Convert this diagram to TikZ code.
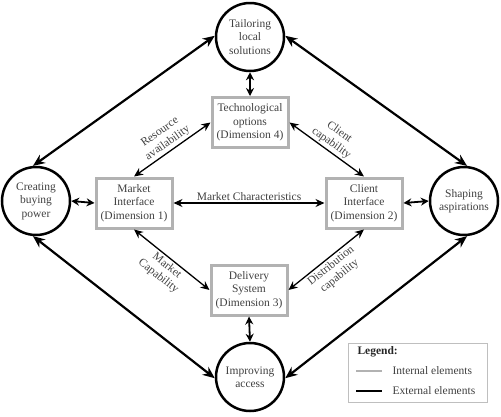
\documentclass[tikz,border=0pt]{standalone}
\usepackage{fontspec}
\setmainfont{Liberation Serif}
\usetikzlibrary{arrows.meta}
\begin{document}
\begin{tikzpicture}[x=1pt,y=-1pt,
  txt/.style={text=black!75, font=\fontsize{11.5}{13.5}\selectfont, align=center},
  outer/.style={txt, draw=black, circle, line width=2.5pt, minimum size=68pt, inner sep=0pt},
  inner/.style={txt, draw=black!30, line width=3pt, minimum width=76pt, minimum height=50pt, inner sep=1pt},
  bigarr/.style={line width=2.2pt, {Stealth[length=12pt,width=10pt]}-{Stealth[length=12pt,width=10pt]}},
  shortarr/.style={line width=1.8pt, {Stealth[length=8pt,width=8pt]}-{Stealth[length=8pt,width=8pt]}},
  thinarr/.style={line width=1.3pt, {Stealth[length=9pt,width=8pt]}-{Stealth[length=9pt,width=8pt]}},
  lab/.style={txt, inner sep=2pt}
]
\useasboundingbox (0,0) rectangle (501,416);

\node[outer] (T) at (250,37) {Tailoring\\local\\solutions};
\node[outer] (C) at (36,201) {Creating\\buying\\power};
\node[outer] (S) at (464,201) {Shaping\\aspirations};
\node[outer] (I) at (250,377) {Improving\\access};

\node[inner] (TO) at (250,122.5) {Technological\\options\\(Dimension 4)};
\node[inner] (MI) at (134,203) {Market\\Interface\\(Dimension 1)};
\node[inner] (CI) at (364,203) {Client\\Interface\\(Dimension 2)};
\node[inner] (DS) at (249,290) {Delivery\\System\\(Dimension 3)};

\draw[bigarr] (C.95) -- (T.178);
\draw[bigarr] (T.2) -- (S.85);
\draw[bigarr] (C.265) -- (I.182);
\draw[bigarr] (I.358) -- (S.275);

\draw[shortarr] (T.south) -- (TO.north);
\draw[shortarr] (C.east) -- (MI.west);
\draw[shortarr] (CI.east) -- (S.west);
\draw[shortarr] (DS.south) -- (I.north);

\draw[thinarr] (MI.east) -- node[lab, above] {Market Characteristics} (CI.west);
\draw[thinarr] (MI.north) -- node[lab, midway, sloped, above] {Resource\\availability} (TO.west);
\draw[thinarr] (TO.east) -- node[lab, midway, sloped, above] {Client\\capability} (CI.north);
\draw[thinarr] (MI.south) -- node[lab, midway, sloped, below] {Market\\Capability} (DS.west);
\draw[thinarr] (DS.east) -- node[lab, midway, sloped, below] {Distribution\\capability} (CI.south);

\node[draw=black!25, line width=0.6pt, minimum width=139pt, minimum height=59pt, inner sep=0pt] (LG) at (417.5,372.5) {};
\node[txt, anchor=west, font=\fontsize{11.5}{13}\selectfont\bfseries, text=black!85] (LT) at (354,352) {Legend:};
\coordinate (L1a) at (356,371);
\coordinate (L1b) at (382,371);
\coordinate (L2a) at (356,391);
\coordinate (L2b) at (382,391);
\draw[draw=black!30, line width=2.5pt] (L1a) -- (L1b);
\draw[draw=black, line width=2.5pt] (L2a) -- (L2b);
\node[txt, anchor=west] (LI) at (389,371) {Internal elements};
\node[txt, anchor=west] (LE) at (389,391) {External elements};
\end{tikzpicture}
\end{document}
